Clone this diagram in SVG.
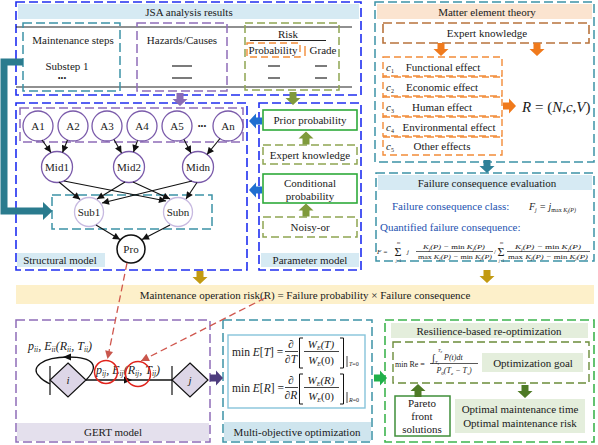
<svg xmlns="http://www.w3.org/2000/svg" width="598" height="445" viewBox="0 0 598 445" font-family="'Liberation Serif','Times New Roman',serif" font-size="11">
<defs>
<style>
text{fill:#1a1a1a}
.c{text-anchor:middle}
.i{font-style:italic}
.n{font-style:normal}
.bd{fill:none;stroke:#1f2ef0;stroke-width:1.6;stroke-dasharray:9 4}
.td{fill:none;stroke:#3d93a6;stroke-width:1.5;stroke-dasharray:9 4}
.pd{fill:none;stroke:#8e6cb8;stroke-width:1.5;stroke-dasharray:9 4}
.od{fill:none;stroke:#8fa552;stroke-width:1.5;stroke-dasharray:8 4}
.gs{fill:#fff;stroke:#2eaa3a;stroke-width:1.6}
.ord{fill:none;stroke:#f28c38;stroke-width:1.4;stroke-dasharray:7 4}
.brd{fill:none;stroke:#b8733c;stroke-width:1.6;stroke-dasharray:9 4}
.gd{fill:none;stroke:#3db44e;stroke-width:1.6;stroke-dasharray:9 4}
.band{fill:#d6eaf3}
.lg{fill:#e4eedc}
.ln{stroke:#222;stroke-width:1.2}
.ed{fill:none;stroke:#111;stroke-width:1.1;marker-end:url(#ah)}
.rd{fill:none;stroke:#d0574e;stroke-width:1.3;stroke-dasharray:7 4;marker-end:url(#rh)}
.na{fill:#fff;stroke:#7a5aaa;stroke-width:1.3}
.ns{fill:#fff;stroke:#c7b9e0;stroke-width:1.3}
.blue{fill:#2452b0}
.s{font-size:6px}
</style>
<marker id="ah" viewBox="0 0 10 10" refX="10" refY="5" markerWidth="8" markerHeight="7" markerUnits="userSpaceOnUse" orient="auto"><path d="M0,0 L10,5 L0,10 z" fill="#111"/></marker>
<marker id="rh" viewBox="0 0 10 10" refX="10" refY="5" markerWidth="9" markerHeight="8" markerUnits="userSpaceOnUse" orient="auto"><path d="M0,0 L10,5 L0,10 z" fill="#c9564c"/></marker>
<path id="ad" d="M-3.5,0 H3.5 V6 H7.5 L0,13 L-7.5,6 H-3.5 Z"/>
</defs>

<!-- JSA analysis results -->
<g id="jsa">
<rect class="bd" x="16" y="2" width="345" height="93"/>
<rect class="band" x="18" y="4" width="341" height="15"/>
<text class="c" x="189" y="16">JSA analysis results</text>
<line class="ln" x1="16" y1="27" x2="352" y2="27"/>
<line class="ln" x1="16" y1="87" x2="352" y2="87"/>
<rect class="td" x="23" y="23" width="97" height="68"/>
<rect class="pd" x="137" y="23" width="90" height="68"/>
<rect class="od" x="245" y="23" width="94" height="67"/>
<text class="c" x="73" y="44">Maintenance steps</text>
<text class="c" x="67" y="70">Substep 1</text>
<text class="c" x="62" y="81" font-size="8">•••</text>
<text class="c" x="182" y="44">Hazards/Causes</text>
<line class="ln" x1="172" y1="66" x2="192" y2="66"/>
<line class="ln" x1="172" y1="78" x2="192" y2="78"/>
<text class="c" x="288" y="37.5">Risk</text>
<line class="ln" x1="250" y1="40.5" x2="326" y2="40.5"/>
<rect class="ord" x="247" y="43" width="53" height="14"/>
<line x1="305" y1="46" x2="305" y2="56" stroke="#f28c38" stroke-width="1.4"/>
<text class="c" x="273" y="53.5">Probability</text>
<text class="c" x="323" y="53.5">Grade</text>
<line class="ln" x1="268" y1="66" x2="280" y2="66"/>
<line class="ln" x1="268" y1="78" x2="280" y2="78"/>
<line class="ln" x1="315" y1="66" x2="327" y2="66"/>
<line class="ln" x1="315" y1="78" x2="327" y2="78"/>
</g>

<!-- Structural model -->
<g id="structural-model">
<rect class="bd" x="16" y="103" width="231" height="167"/>
<rect class="pd" x="20" y="108" width="223" height="34"/>
<rect class="td" x="52" y="195" width="160" height="34"/>
<rect class="band" x="17" y="253" width="88" height="14"/>
<text class="c" x="60" y="264">Structural model</text>
</g>
<g id="A1"><circle class="na" cx="38" cy="126" r="15"/><text class="c" x="38" y="130">A1</text></g>
<g id="A2"><circle class="na" cx="73" cy="126" r="15"/><text class="c" x="73" y="130">A2</text></g>
<g id="A3"><circle class="na" cx="107" cy="126" r="15"/><text class="c" x="107" y="130">A3</text></g>
<g id="A4"><circle class="na" cx="142" cy="126" r="15"/><text class="c" x="142" y="130">A4</text></g>
<g id="A5"><circle class="na" cx="177" cy="126" r="15"/><text class="c" x="177" y="130">A5</text></g>
<text class="c" x="202" y="128.5" font-size="8">•••</text>
<g id="An"><circle class="na" cx="228" cy="126" r="15"/><text class="c" x="228" y="130">An</text></g>
<g id="Mid1"><circle class="na" cx="57" cy="167" r="15.5" stroke="#8f75bd"/><text class="c" x="57" y="171">Mid1</text></g>
<g id="Mid2"><circle class="na" cx="129" cy="167" r="15.5" stroke="#8f75bd"/><text class="c" x="129" y="171">Mid2</text></g>
<g id="Midn"><circle class="na" cx="198" cy="167" r="15.5" stroke="#8f75bd"/><text class="c" x="198" y="171">Midn</text></g>
<g id="Sub1"><circle class="ns" cx="89" cy="212" r="14.5"/><text class="c" x="89" y="216">Sub1</text></g>
<g id="Subn"><circle class="ns" cx="178" cy="212" r="14.5"/><text class="c" x="178" y="216">Subn</text></g>
<g id="Pro"><circle cx="131" cy="249" r="14" fill="#fff" stroke="#111" stroke-width="1.5"/><text class="c" x="131" y="253">Pro</text></g>

<!-- Parameter model -->
<g id="parameter-model">
<rect class="bd" x="259" y="103" width="102" height="167"/>
<rect class="band" x="261" y="253" width="98" height="14"/>
<text class="c" x="310" y="264">Parameter model</text>
</g>
<g id="prior"><rect class="gs" x="263" y="110" width="94" height="20"/><text class="c" x="310" y="124">Prior probability</text></g>
<g id="expert1"><rect class="od" x="263" y="145" width="94" height="19"/><text class="c" x="310" y="158.5">Expert knowledge</text></g>
<g id="conditional"><rect class="gs" x="263" y="174" width="94" height="29"/><text class="c" x="310" y="187">Conditional</text><text class="c" x="310" y="199.5">probability</text></g>
<g id="noisy"><rect class="od" x="263" y="217" width="94" height="20"/><text class="c" x="310" y="231">Noisy-or</text></g>

<!-- Matter element theory -->
<g id="matter">
<rect class="td" x="375" y="2" width="219" height="160"/>
<rect x="377" y="4" width="215" height="15" fill="#fbe4d0"/>
<text class="c" x="487" y="15.5">Matter element theory</text>
<rect class="brd" x="383" y="23" width="206" height="20"/>
<text class="c" x="487" y="37">Expert knowledge</text>
<rect class="ord" x="383" y="57" width="119" height="19"/>
<rect class="ord" x="383" y="77" width="119" height="19"/>
<rect class="ord" x="383" y="97" width="119" height="19"/>
<rect class="ord" x="383" y="117" width="119" height="19"/>
<rect class="ord" x="383" y="137" width="119" height="18"/>
<text class="i" x="386" y="70.5">c<tspan class="s n" dy="2">1</tspan></text>
<text class="i" x="386" y="90.5">c<tspan class="s n" dy="2">2</tspan></text>
<text class="i" x="386" y="110.5">c<tspan class="s n" dy="2">3</tspan></text>
<text class="i" x="386" y="130.5">c<tspan class="s n" dy="2">4</tspan></text>
<text class="i" x="386" y="150">c<tspan class="s n" dy="2">5</tspan></text>
<text class="c" x="443" y="70.5">Functional effect</text>
<text class="c" x="442" y="90.5">Economic effect</text>
<text class="c" x="442" y="110.5">Human effect</text>
<text class="c" x="449" y="130.5">Environmental effect</text>
<text class="c" x="442" y="150">Other effects</text>
<text x="522" y="112" font-size="15"><tspan class="i">R</tspan> = (<tspan class="i">N</tspan>,<tspan class="i">c</tspan>,<tspan class="i">V</tspan>)</text>
</g>

<!-- Failure consequence evaluation -->
<g id="failure">
<rect class="td" x="376" y="173" width="218" height="88"/>
<rect class="band" x="378" y="175" width="214" height="15"/>
<text class="c" x="487" y="187">Failure consequence evaluation</text>
<text class="blue" x="392" y="210">Failure consequence class:</text>
<text class="i" x="529" y="210" font-size="10">F<tspan font-size="6" dy="2">j</tspan><tspan dy="-2"> = j</tspan><tspan font-size="6" dy="2"><tspan class="n">max</tspan> K<tspan font-size="4" dy="1">j</tspan><tspan dy="-1">(P)</tspan></tspan></text>
<text class="blue" x="380" y="231">Quantified  failure consequence:</text>
<text class="i" x="377" y="254" font-size="7">F =</text>
<text x="394.5" y="255.5" font-size="12">Σ</text>
<text class="c i" x="398.5" y="244" font-size="4.5">m</text>
<text class="c i" x="398.5" y="261.5" font-size="4">j<tspan class="n">=1</tspan></text>
<text class="i" x="407" y="254" font-size="7">j</text>
<text class="c i" x="454" y="249" font-size="7" textLength="62" lengthAdjust="spacingAndGlyphs">K<tspan font-size="4.5" dy="1.5">j</tspan><tspan dy="-1.5">(P) − <tspan class="n">min</tspan> K</tspan><tspan font-size="4.5" dy="1.5">j</tspan><tspan dy="-1.5">(P)</tspan></text>
<line x1="416" y1="251.5" x2="493" y2="251.5" stroke="#222" stroke-width="0.7"/>
<text class="c i" x="455" y="258.5" font-size="7" textLength="74" lengthAdjust="spacingAndGlyphs"><tspan class="n">max</tspan> K<tspan font-size="4.5" dy="1.5">j</tspan><tspan dy="-1.5">(P) − <tspan class="n">min</tspan> K</tspan><tspan font-size="4.5" dy="1.5">j</tspan><tspan dy="-1.5">(P)</tspan></text>
<text x="494" y="254" font-size="7">/</text>
<text x="497.5" y="255.5" font-size="12">Σ</text>
<text class="c i" x="501.5" y="244" font-size="4.5">m</text>
<text class="c i" x="501.5" y="261.5" font-size="4">j<tspan class="n">=1</tspan></text>
<text class="c i" x="548" y="249" font-size="7" textLength="66" lengthAdjust="spacingAndGlyphs">K<tspan font-size="4.5" dy="1.5">j</tspan><tspan dy="-1.5">(P) − <tspan class="n">min</tspan> K</tspan><tspan font-size="4.5" dy="1.5">j</tspan><tspan dy="-1.5">(P)</tspan></text>
<line x1="507" y1="251.5" x2="590" y2="251.5" stroke="#222" stroke-width="0.7"/>
<text class="c i" x="548" y="258.5" font-size="7" textLength="80" lengthAdjust="spacingAndGlyphs"><tspan class="n">max</tspan> K<tspan font-size="4.5" dy="1.5">j</tspan><tspan dy="-1.5">(P) − <tspan class="n">min</tspan> K</tspan><tspan font-size="4.5" dy="1.5">j</tspan><tspan dy="-1.5">(P)</tspan></text>
</g>

<!-- Maintenance operation risk -->
<g id="risk-band">
<rect x="16" y="285" width="578" height="19" fill="#fdf0ca"/>
<text class="c" x="305" y="298.5">Maintenance operation risk(R) = Failure probability × Failure consequence</text>
</g>

<!-- GERT model -->
<g id="gert">
<rect class="pd" x="16" y="320" width="194" height="122"/>
<rect x="17" y="423" width="192" height="18" fill="#e4e0ed"/>
<text class="c" x="113" y="436">GERT model</text>
<line x1="50" y1="366" x2="50" y2="395" stroke="#111" stroke-width="1.2"/>
<line x1="172" y1="366" x2="172" y2="395" stroke="#111" stroke-width="1.2"/>
<path d="M86,380 C100,366 94,357 68,357 C42,357 30,368 39,376 C42,380 46,382 50,384" fill="none" stroke="#111" stroke-width="1.3"/>
<path d="M63,357 L71,353.5 L71,360.5 Z" fill="#111"/>
<line x1="86" y1="380" x2="172" y2="380" stroke="#111" stroke-width="1.3"/>
<path d="M132,380 L124,376.5 L124,383.5 Z" fill="#111"/>
<g id="node-i"><path d="M68,363 L86,380 L68,397 L50,380 Z" fill="#ddd6e7" stroke="#111" stroke-width="1.2"/><text class="c i" x="68" y="384">i</text></g>
<g id="node-j"><path d="M190,363 L208,380 L190,397 L172,380 Z" fill="#ddd6e7" stroke="#111" stroke-width="1.2"/><text class="c i" x="190" y="384">j</text></g>
<text class="i" x="28" y="350" font-size="12">p<tspan font-size="7.5" dy="2">ii</tspan><tspan dy="-2">, E</tspan><tspan font-size="7.5" dy="2">ii</tspan><tspan dy="-2">(R</tspan><tspan font-size="7.5" dy="2">ii</tspan><tspan dy="-2">, T</tspan><tspan font-size="7.5" dy="2">ii</tspan><tspan dy="-2">)</tspan></text>
<text class="i" x="96" y="374" font-size="12">p<tspan font-size="7.5" dy="2">ij</tspan><tspan dy="-2">, E</tspan><tspan font-size="7.5" dy="2">ij</tspan><tspan dy="-2">(R</tspan><tspan font-size="7.5" dy="2">ij</tspan><tspan dy="-2">, T</tspan><tspan font-size="7.5" dy="2">ij</tspan><tspan dy="-2">)</tspan></text>
<circle cx="106" cy="372" r="11.5" fill="none" stroke="#e0231c" stroke-width="1.5"/>
<circle cx="138" cy="374" r="12.5" fill="none" stroke="#e0231c" stroke-width="1.5"/>
</g>

<!-- Multi-objective optimization -->
<g id="multi">
<rect class="td" x="223" y="320" width="149" height="122"/>
<rect x="228" y="335" width="137" height="73" fill="#fff" stroke="#86c4da" stroke-width="1.4"/>
<rect x="224" y="422" width="147" height="19" fill="#cfe5ee"/>
<text class="c" x="297" y="436">Multi-objective optimization</text>
<text x="232" y="356" font-size="11.5">min <tspan class="i">E</tspan>[<tspan class="i">T</tspan>] =</text>
<text class="c" x="291" y="348" font-size="11.5">∂</text>
<line x1="285" y1="351.5" x2="298" y2="351.5" stroke="#111" stroke-width="0.8"/>
<text class="c" x="291" y="363" font-size="11.5">∂<tspan class="i">T</tspan></text>
<path d="M303,338 H299.5 V368 H303" fill="none" stroke="#111" stroke-width="1"/>
<text class="c i" x="321" y="348" font-size="11">W<tspan font-size="6" dy="2">E</tspan><tspan dy="-2">(T)</tspan></text>
<line x1="304" y1="351.5" x2="339" y2="351.5" stroke="#111" stroke-width="0.8"/>
<text class="c i" x="321" y="364" font-size="11">W<tspan font-size="6" dy="2">E</tspan><tspan dy="-2" class="n">(0)</tspan></text>
<path d="M340,338 H343.5 V368 H340" fill="none" stroke="#111" stroke-width="1"/>
<line x1="347" y1="356" x2="347" y2="367" stroke="#111" stroke-width="0.8"/>
<text x="349" y="366" font-size="6"><tspan class="i">T</tspan>=0</text>
<text x="232" y="392" font-size="11.5">min <tspan class="i">E</tspan>[<tspan class="i">R</tspan>] =</text>
<text class="c" x="291" y="384" font-size="11.5">∂</text>
<line x1="285" y1="387.5" x2="298" y2="387.5" stroke="#111" stroke-width="0.8"/>
<text class="c" x="291" y="399" font-size="11.5">∂<tspan class="i">R</tspan></text>
<path d="M303,374 H299.5 V404 H303" fill="none" stroke="#111" stroke-width="1"/>
<text class="c i" x="321" y="384" font-size="11">W<tspan font-size="6" dy="2">E</tspan><tspan dy="-2">(R)</tspan></text>
<line x1="304" y1="387.5" x2="339" y2="387.5" stroke="#111" stroke-width="0.8"/>
<text class="c i" x="321" y="400" font-size="11">W<tspan font-size="6" dy="2">E</tspan><tspan dy="-2" class="n">(0)</tspan></text>
<path d="M340,374 H343.5 V404 H340" fill="none" stroke="#111" stroke-width="1"/>
<line x1="347" y1="392" x2="347" y2="403" stroke="#111" stroke-width="0.8"/>
<text x="349" y="402" font-size="6"><tspan class="i">R</tspan>=0</text>
</g>

<!-- Resilience-based re-optimization -->
<g id="resilience">
<rect class="gd" x="385" y="320" width="209" height="122"/>
<rect class="lg" x="391" y="323" width="197" height="15"/>
<text class="c" x="489" y="334.5">Resilience-based re-optimization</text>
<rect x="393" y="342" width="196" height="41" fill="none" stroke="#6b8c3a" stroke-width="1.4" stroke-dasharray="8 4"/>
<text x="395" y="366.5" font-size="8">min Re =</text>
<text x="432" y="361" font-size="10">∫</text>
<text class="i" x="438" y="352" font-size="4.5">T<tspan font-size="3.5" dy="1">e</tspan></text>
<text class="i" x="435" y="364" font-size="4.5">T<tspan font-size="3.5" dy="1">s</tspan></text>
<text class="i" x="444" y="360" font-size="8">P(t)dt</text>
<line x1="430" y1="363.5" x2="478" y2="363.5" stroke="#111" stroke-width="0.7"/>
<text class="c i" x="454" y="373" font-size="8">P<tspan font-size="5" dy="1.5">0</tspan><tspan dy="-1.5">(T</tspan><tspan font-size="5" dy="1.5">e</tspan><tspan dy="-1.5"> − T</tspan><tspan font-size="5" dy="1.5">s</tspan><tspan dy="-1.5">)</tspan></text>
<rect class="lg" x="482" y="353" width="101" height="19"/>
<text class="c" x="533" y="366.5">Optimization goal</text>
<rect x="395" y="396" width="55" height="40" fill="#fff" stroke="#3f8f3a" stroke-width="1.5"/>
<text class="c" x="422" y="407">Pareto</text>
<text class="c" x="422" y="420">front</text>
<text class="c" x="422" y="433">solutions</text>
<rect class="lg" x="455" y="399" width="130" height="34"/>
<text class="c" x="520" y="413">Optimal maintenance time</text>
<text class="c" x="520" y="427">Optimal maintenance risk</text>
</g>

<!-- Connectors -->
<g id="connectors">
<path d="M23,62 H4 V211 H44" fill="none" stroke="#2a7b8e" stroke-width="7"/>
<path d="M43,202 L52.5,211 L43,220 Z" fill="#2a7b8e"/>
<use href="#ad" transform="translate(180,93)" fill="#8a6bb5"/>
<use href="#ad" transform="translate(293,92)" fill="#7f9a3c"/>
<use href="#ad" transform="translate(306,144.5) rotate(180)" fill="#7f9a3c"/>
<use href="#ad" transform="translate(306,216.5) rotate(180)" fill="#7f9a3c"/>
<use href="#ad" transform="translate(262,121) rotate(90)" fill="#1f6fd0"/>
<use href="#ad" transform="translate(262,190) rotate(90)" fill="#1f6fd0"/>
<use href="#ad" transform="translate(441,43)" fill="#f07a1c"/>
<use href="#ad" transform="translate(537,43)" fill="#f07a1c"/>
<use href="#ad" transform="translate(503,106) rotate(-90)" fill="#f07a1c"/>
<use href="#ad" transform="translate(487,160)" fill="#2e8098"/>
<use href="#ad" transform="translate(200,271)" fill="#c29a12"/>
<use href="#ad" transform="translate(487,270)" fill="#c29a12"/>
<use href="#ad" transform="translate(210,378) rotate(-90)" fill="#4e3d7e"/>
<use href="#ad" transform="translate(374,378) rotate(-90)" fill="#1fb04a"/>
<use href="#ad" transform="translate(418,397) rotate(180)" fill="#4e7a26"/>
<use href="#ad" transform="translate(525,385)" fill="#4e7a26"/>
<line class="ed" x1="42" y1="140" x2="51" y2="152.5"/>
<line class="ed" x1="67.5" y1="140" x2="62.5" y2="152.5"/>
<line class="ed" x1="114" y1="139.5" x2="121.5" y2="153"/>
<line class="ed" x1="137.5" y1="140.5" x2="133.5" y2="152"/>
<line class="ed" x1="184" y1="139.5" x2="191" y2="153"/>
<line class="ed" x1="220" y1="138.5" x2="207" y2="154.5"/>
<line class="ed" x1="59" y1="182" x2="80" y2="199.5"/>
<line class="ed" x1="64" y1="181" x2="166" y2="201"/>
<line class="ed" x1="125" y1="182" x2="97" y2="199"/>
<line class="ed" x1="133" y1="182" x2="170" y2="199"/>
<line class="ed" x1="192" y1="181" x2="102" y2="203"/>
<line class="ed" x1="197" y1="182.5" x2="186" y2="199"/>
<line class="ed" x1="96" y1="225" x2="120" y2="239.5"/>
<line class="ed" x1="170" y1="225" x2="142" y2="239.5"/>
<line class="rd" x1="127" y1="263" x2="107.5" y2="359"/>
<line class="rd" x1="265" y1="298" x2="141" y2="361"/>
</g>
</svg>
